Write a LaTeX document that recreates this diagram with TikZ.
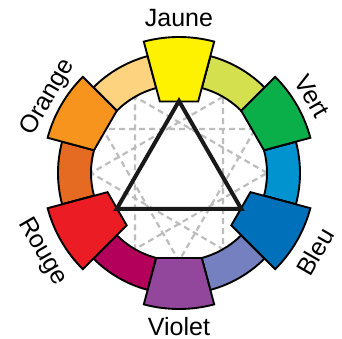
\documentclass[tikz,border=0pt]{standalone}
\usepackage{fontspec}
\setmainfont{Liberation Sans}
\definecolor{cYellow}{HTML}{FFF200}
\definecolor{cYG}{HTML}{D5E04F}
\definecolor{cGreen}{HTML}{0BAF4A}
\definecolor{cCyan}{HTML}{0093D0}
\definecolor{cBlue}{HTML}{0070BA}
\definecolor{cBV}{HTML}{7580C0}
\definecolor{cViolet}{HTML}{92479C}
\definecolor{cMag}{HTML}{B3005B}
\definecolor{cRed}{HTML}{EC1C24}
\definecolor{cRO}{HTML}{E56A22}
\definecolor{cOrange}{HTML}{F7941D}
\definecolor{cLO}{HTML}{FED37F}
\definecolor{cDash}{HTML}{BDBDBD}
\begin{document}
\begin{tikzpicture}[x=1pt,y=1pt,
  outl/.style={draw=black, line width=1.9pt, line join=miter},
  dline/.style={draw=cDash, line width=2.2pt, dash pattern=on 6pt off 4pt},
  lbl/.style={font=\fontsize{25}{30}\selectfont, inner sep=0pt, text height=18pt, text depth=0pt}]
\useasboundingbox[fill=white] (-179,-166) rectangle (163,173);
% dashed triangles
\foreach \a in {0,30,60} {
  \pgfmathsetmacro\b{\a+120}
  \pgfmathsetmacro\c{\a+240}
  \draw[dline] (\a:88pt) -- (\b:88pt) -- (\c:88pt) -- cycle;
}
% ring
\foreach \a/\col in {0/cCyan,30/cGreen,60/cYG,90/cYellow,120/cLO,150/cOrange,180/cRO,210/cRed,240/cMag,270/cViolet,300/cBV,330/cBlue} {
  \pgfmathsetmacro\s{\a-15}
  \pgfmathsetmacro\e{\a+15}
  \filldraw[fill=\col, outl] (\s:121pt) arc[start angle=\s, end angle=\e, radius=121pt] -- (\e:88pt) arc[start angle=\e, end angle=\s, radius=88pt] -- cycle;
}
% secondary blocks
\foreach \a/\col in {30/cGreen,150/cOrange,270/cViolet} {
  \pgfmathsetmacro\s{\a-15}
  \pgfmathsetmacro\e{\a+15}
  \filldraw[fill=\col, outl] (\s:136pt) arc[start angle=\s, end angle=\e, radius=136pt] -- (\e:88pt) -- (\s:88pt) -- cycle;
}
% primary blocks
\foreach \a/\col in {90/cYellow,210/cRed,330/cBlue} {
  \pgfmathsetmacro\s{\a-15}
  \pgfmathsetmacro\e{\a+15}
  \filldraw[fill=\col, outl] (\s:136pt) arc[start angle=\s, end angle=\e, radius=136pt] -- (\e:74pt) -- (\s:74pt) -- cycle;
}
% main triangle
\coordinate (tJ) at (90:72pt);
\coordinate (tR) at (210:72pt);
\coordinate (tB) at (330:72pt);
\draw[line width=4pt, line join=miter, draw=black!90] (tJ) -- (tR) -- (tB) -- cycle;
% labels
\node[lbl] (lJaune) at (90:155.5pt) {Jaune};
\node[lbl, rotate=-60] (lVert) at (30:154pt) {Vert};
\node[lbl, rotate=60] (lOrange) at (150:154pt) {Orange};
\node[lbl, rotate=-60] (lRouge) at (210:155pt) {Rouge};
\node[lbl, rotate=60] (lBleu) at (330:157pt) {Bleu};
\node[lbl] (lViolet) at (270:153.5pt) {Violet};
\end{tikzpicture}
\end{document}
